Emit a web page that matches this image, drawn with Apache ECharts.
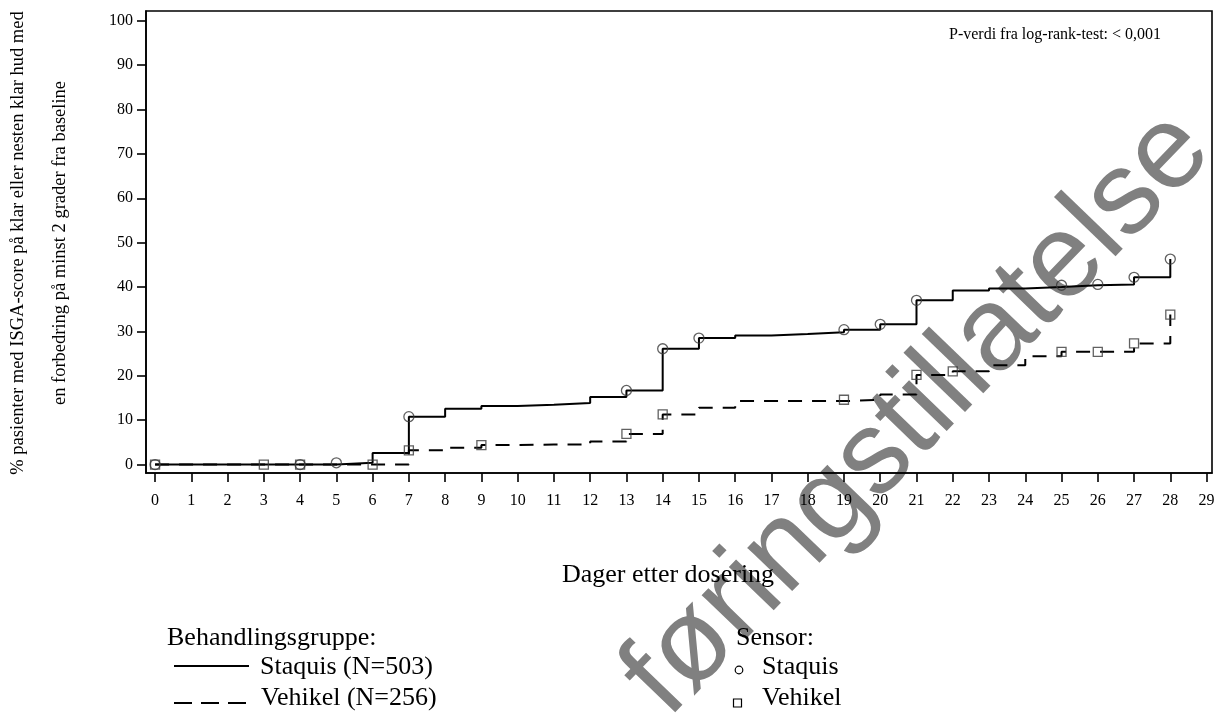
<!DOCTYPE html>
<html><head><meta charset="utf-8">
<script src="https://cdn.jsdelivr.net/npm/echarts@6/dist/echarts.min.js"></script>
<style>html,body{margin:0;padding:0;background:#fff}#c{width:1219px;height:715px}</style>
</head><body><div id="c"></div>
<script>
// ---- data ----
const days = [0,1,2,3,4,5,6,7,8,9,10,11,12,13,14,15,16,17,18,19,20,21,22,23,24,25,26,27,28];
const staquis = [0,0,0,0,0,0.4,2.6,10.8,12.6,13.2,13.5,13.9,15.2,16.7,26.1,28.5,29.1,29.4,29.8,30.4,31.6,37.0,39.2,39.7,40.0,40.4,40.6,42.2,46.3];
const vehikel = [0,0,0,0,0,0,0,3.2,3.8,4.4,4.5,4.5,5.2,6.9,11.3,12.8,14.3,14.3,14.3,14.6,15.8,20.2,21.0,22.4,24.4,25.4,25.4,27.3,33.8];
const staquisCensorDays = [0,4,5,7,13,14,15,19,20,21,25,26,27,28];
const vehikelCensorDays = [0,3,4,6,7,9,13,14,19,21,22,25,26,27,28];
const xTicks = [0,1,2,3,4,5,6,7,8,9,10,11,12,13,14,15,16,17,18,19,20,21,22,23,24,25,26,27,28,29];
const yTicks = [0,10,20,30,40,50,60,70,80,90,100];
const xTitle = 'Dager etter dosering';
const yTitle1 = '% pasienter med ISGA-score på klar eller nesten klar hud med';
const yTitle2 = 'en forbedring på minst 2 grader fra baseline';
const pText = 'P-verdi fra log-rank-test: < 0,001';
const groupHeader = 'Behandlingsgruppe:';
const groupNames = ['Staquis (N=503)', 'Vehikel (N=256)'];
const censorHeader = 'Sensor:';
const censorNames = ['Staquis', 'Vehikel'];
const watermark = 'føringstillatelse';

// ---- build ----
const SERIF = "'Liberation Serif','Times New Roman',serif";
const valAt = (arr, d) => arr[days.indexOf(d)];
const stepData = arr => days.map((d, i) => [d, arr[i]]);
const censorData = (arr, cd) => cd.map(d => [d, valAt(arr, d)]);

const chart = echarts.init(document.getElementById('c'), null, {renderer: 'canvas'});

const axisCommon = {
  type: 'value',
  axisLine: {show: true, onZero: false, lineStyle: {color: '#000', width: 1.6}},
  splitLine: {show: false},
};

chart.setOption({
  animation: false,
  backgroundColor: '#fff',
  grid: {left: 146, right: 7, top: 11, bottom: 242, show: true, borderColor: '#000', borderWidth: 1.6, containLabel: false, outerBoundsMode: 'none'},
  xAxis: Object.assign({}, axisCommon, {
    min: -0.25, max: 29.15,
    axisTick: {show: true, length: 9, customValues: xTicks, lineStyle: {color: '#000', width: 1.6}},
    axisLabel: {customValues: xTicks, margin: 20, fontFamily: SERIF, fontSize: 16, color: '#000'}
  }),
  yAxis: Object.assign({}, axisCommon, {
    min: -1.9, max: 102.2,
    axisTick: {show: true, length: 9, customValues: yTicks, lineStyle: {color: '#000', width: 1.6}},
    axisLabel: {customValues: yTicks, margin: 13, fontFamily: SERIF, fontSize: 16, color: '#000'}
  }),
  series: [
    {type: 'line', name: groupNames[0], step: 'end', data: stepData(staquis), showSymbol: false, z: 3,
     lineStyle: {color: '#000', width: 2, type: 'solid'}},
    {type: 'line', name: groupNames[1], step: 'end', data: stepData(vehikel), showSymbol: false, z: 3,
     lineStyle: {color: '#000', width: 2, type: [14, 10]}},
    {type: 'scatter', name: censorNames[0], data: censorData(staquis, staquisCensorDays), symbol: 'circle', symbolSize: 10, z: 4,
     itemStyle: {color: 'rgba(0,0,0,0)', borderColor: '#3a3a3a', borderWidth: 1.3}},
    {type: 'scatter', name: censorNames[1], data: censorData(vehikel, vehikelCensorDays), symbol: 'rect', symbolSize: 9, z: 4,
     itemStyle: {color: 'rgba(0,0,0,0)', borderColor: '#3a3a3a', borderWidth: 1.3}}
  ],
  graphic: [
    {type: 'text', x: 918, y: 414, rotation: 46 * Math.PI / 180, z: -5, silent: true,
     style: {text: watermark, font: "118px 'Liberation Sans', Arial, sans-serif", fill: '#808080', textAlign: 'center', textVerticalAlign: 'middle'}},
    {type: 'text', x: 949, y: 35, z: 10, style: {text: pText, font: '16px ' + SERIF, fill: '#000', textAlign: 'left', textVerticalAlign: 'middle'}},
    {type: 'text', x: 668, y: 575, z: 10, style: {text: xTitle, font: '26px ' + SERIF, fill: '#000', textAlign: 'center', textVerticalAlign: 'middle'}},
    {type: 'text', x: 18, y: 243, rotation: Math.PI / 2, z: 10, style: {text: yTitle1, font: '18.5px ' + SERIF, fill: '#000', textAlign: 'center', textVerticalAlign: 'middle'}},
    {type: 'text', x: 60, y: 243, rotation: Math.PI / 2, z: 10, style: {text: yTitle2, font: '18.5px ' + SERIF, fill: '#000', textAlign: 'center', textVerticalAlign: 'middle'}},
    // group legend
    {type: 'text', x: 167, y: 638, z: 10, style: {text: groupHeader, font: '26px ' + SERIF, fill: '#000', textAlign: 'left', textVerticalAlign: 'middle'}},
    {type: 'line', z: 10, shape: {x1: 174, y1: 666, x2: 249, y2: 666}, style: {stroke: '#000', lineWidth: 2}},
    {type: 'text', x: 260, y: 667, z: 10, style: {text: groupNames[0], font: '26px ' + SERIF, fill: '#000', textAlign: 'left', textVerticalAlign: 'middle'}},
    {type: 'line', z: 10, shape: {x1: 174, y1: 703, x2: 249, y2: 703}, style: {stroke: '#000', lineWidth: 2.2, lineDash: [18, 9]}},
    {type: 'text', x: 261, y: 698, z: 10, style: {text: groupNames[1], font: '26px ' + SERIF, fill: '#000', textAlign: 'left', textVerticalAlign: 'middle'}},
    // censor legend
    {type: 'text', x: 736, y: 638, z: 10, style: {text: censorHeader, font: '26px ' + SERIF, fill: '#000', textAlign: 'left', textVerticalAlign: 'middle'}},
    {type: 'circle', z: 10, shape: {cx: 739, cy: 670, r: 3.8}, style: {fill: 'none', stroke: '#000', lineWidth: 1.2}},
    {type: 'text', x: 762, y: 667, z: 10, style: {text: censorNames[0], font: '26px ' + SERIF, fill: '#000', textAlign: 'left', textVerticalAlign: 'middle'}},
    {type: 'rect', z: 10, shape: {x: 733.5, y: 699, width: 8, height: 8}, style: {fill: 'none', stroke: '#000', lineWidth: 1.2}},
    {type: 'text', x: 762, y: 698, z: 10, style: {text: censorNames[1], font: '26px ' + SERIF, fill: '#000', textAlign: 'left', textVerticalAlign: 'middle'}}
  ]
});
</script>
</body></html>
